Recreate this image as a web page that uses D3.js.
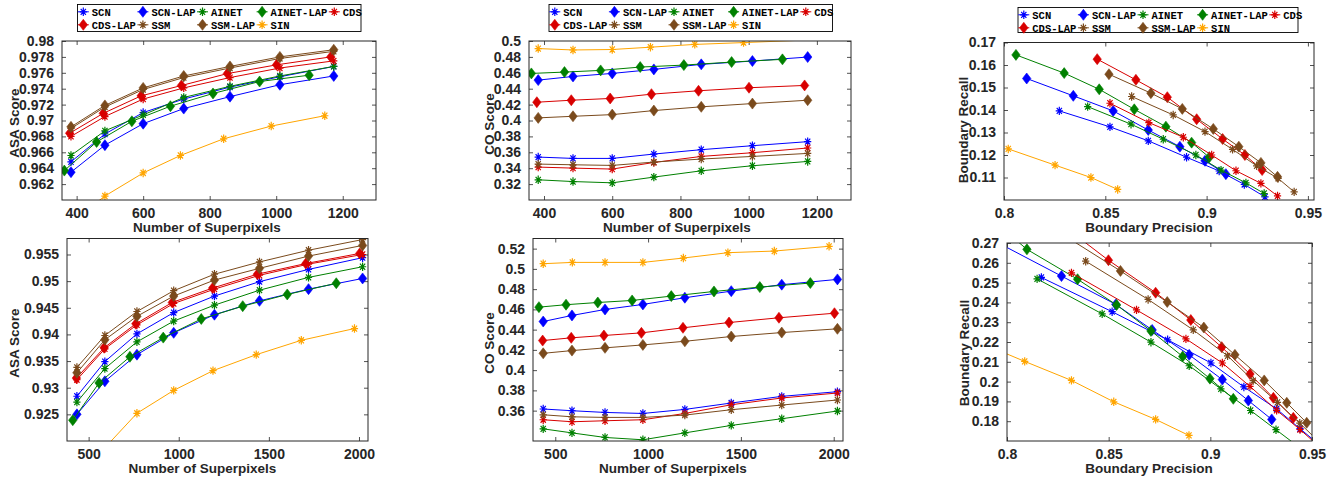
<!DOCTYPE html>
<html>
<head>
<meta charset="utf-8">
<script src="https://cdn.jsdelivr.net/npm/d3@7"></script>
<style>
  body { margin: 0; background: #fff; }
  svg { display: block; }
</style>
</head>
<body>
<svg id="chart" width="1340" height="481"></svg>
<script>
// ---- series definitions ----
var seriesNames = ["SCN", "SCN-LAP", "AINET", "AINET-LAP", "CDS", "CDS-LAP", "SSM", "SSM-LAP", "SIN"];
var seriesColors = ["#0000ff", "#0000ff", "#008000", "#008000", "#d80000", "#d80000", "#7a4a1c", "#7a4a1c", "#ffa500"];
var seriesMarkers = ["star", "diamond", "star", "diamond", "star", "diamond", "star", "diamond", "star"];

// ---- number of superpixels actually produced (top row: 7 settings, bottom row: 8) ----
var topX = [383, 485, 600, 722, 861, 1011, 1173];
var topXcdsLap = [379, 480, 594, 715, 853, 1001, 1164];
var topXainetLap = [363, 460, 566, 682, 810, 950, 1099];
var topXsin = [383, 485, 600, 712, 842, 985, 1146];
var botX = [435, 590, 768, 972, 1198, 1448, 1720, 2020];
var botXcdsLap = [432, 586, 762, 964, 1188, 1436, 1705, 2004];
var botXainetLap = [412, 558, 729, 914, 1125, 1355, 1602, 1874];
var botXsin = [435, 592, 768, 972, 1190, 1430, 1680, 1975];

// ---- ASA, top row ----
var asaTop = [
  [0.9648, 0.9683, 0.9710, 0.9727, 0.9742, 0.9755, 0.9768],
  [0.9635, 0.9669, 0.9696, 0.9715, 0.9730, 0.9745, 0.9756],
  [0.9656, 0.9687, 0.9707, 0.9729, 0.9743, 0.9756, 0.9768],
  [0.9637, 0.9673, 0.9699, 0.9718, 0.9734, 0.9749, 0.9757],
  [0.9680, 0.9705, 0.9727, 0.9741, 0.9754, 0.9766, 0.9775],
  [0.9684, 0.9709, 0.9731, 0.9744, 0.9759, 0.9770, 0.9780],
  [0.9690, 0.9717, 0.9739, 0.9754, 0.9766, 0.9778, 0.9787],
  [0.9692, 0.9719, 0.9741, 0.9756, 0.9768, 0.9780, 0.9789],
  [0.9572, 0.9605, 0.9634, 0.9656, 0.9677, 0.9693, 0.9706]
];

// ---- CO, top row ----
var coTop = [
  [0.3540, 0.3523, 0.3523, 0.3578, 0.3633, 0.3683, 0.3734],
  [0.4508, 0.4554, 0.4592, 0.4643, 0.4706, 0.4748, 0.4798],
  [0.3254, 0.3232, 0.3216, 0.3288, 0.3367, 0.3431, 0.3485],
  [0.4592, 0.4609, 0.4630, 0.4672, 0.4697, 0.4735, 0.4769],
  [0.3414, 0.3401, 0.3389, 0.3472, 0.3548, 0.3595, 0.3654],
  [0.4230, 0.4255, 0.4277, 0.4331, 0.4374, 0.4412, 0.4441],
  [0.3452, 0.3443, 0.3435, 0.3477, 0.3515, 0.3548, 0.3586],
  [0.4033, 0.4053, 0.4074, 0.4125, 0.4172, 0.4213, 0.4255],
  [0.4905, 0.4887, 0.4893, 0.4922, 0.4957, 0.4980, 0.5008]
];

// ---- boundary precision / recall, top row ----
var precTop = [
  [0.8273, 0.8523, 0.8712, 0.8901, 0.9062, 0.9186, 0.9288],
  [0.8112, 0.8342, 0.8539, 0.8712, 0.8868, 0.8992, 0.9095],
  [0.8413, 0.8627, 0.8786, 0.8947, 0.9071, 0.9194, 0.9284],
  [0.8059, 0.8297, 0.8470, 0.8643, 0.8799, 0.8926, 0.9013],
  [0.8523, 0.8715, 0.8885, 0.9025, 0.9145, 0.9268, 0.9350],
  [0.8460, 0.8651, 0.8806, 0.8951, 0.9079, 0.9189, 0.9274],
  [0.8630, 0.8835, 0.8992, 0.9128, 0.9247, 0.9353, 0.9432],
  [0.8518, 0.8725, 0.8880, 0.9033, 0.9159, 0.9268, 0.9350],
  [0.8021, 0.8252, 0.8429, 0.8561]
];
var recTop = [
  [0.1396, 0.1325, 0.1263, 0.1190, 0.1129, 0.1069, 0.1014],
  [0.1540, 0.1463, 0.1396, 0.1311, 0.1237, 0.1174, 0.1115],
  [0.1415, 0.1337, 0.1270, 0.1200, 0.1133, 0.1076, 0.1029],
  [0.1645, 0.1564, 0.1492, 0.1403, 0.1326, 0.1255, 0.1190],
  [0.1430, 0.1344, 0.1279, 0.1200, 0.1130, 0.1074, 0.1018],
  [0.1626, 0.1534, 0.1457, 0.1359, 0.1271, 0.1200, 0.1133],
  [0.1460, 0.1378, 0.1304, 0.1225, 0.1152, 0.1096, 0.1036],
  [0.1559, 0.1475, 0.1405, 0.1316, 0.1237, 0.1165, 0.1103],
  [0.1227, 0.1155, 0.1100, 0.1047]
];

// ---- ASA, bottom row ----
var asaBot = [
  [0.9284, 0.9349, 0.9401, 0.9441, 0.9472, 0.9499, 0.9522, 0.9544],
  [0.9250, 0.9312, 0.9362, 0.9403, 0.9437, 0.9463, 0.9485, 0.9505],
  [0.9273, 0.9336, 0.9386, 0.9425, 0.9455, 0.9483, 0.9507, 0.9527],
  [0.9239, 0.9309, 0.9358, 0.9394, 0.9429, 0.9453, 0.9475, 0.9496],
  [0.9315, 0.9373, 0.9418, 0.9458, 0.9485, 0.9511, 0.9532, 0.9550],
  [0.9318, 0.9375, 0.9420, 0.9460, 0.9487, 0.9513, 0.9533, 0.9552],
  [0.9338, 0.9398, 0.9443, 0.9482, 0.9513, 0.9536, 0.9558, 0.9578],
  [0.9328, 0.9390, 0.9434, 0.9472, 0.9502, 0.9524, 0.9547, 0.9567],
  [0.9110, 0.9188, 0.9252, 0.9295, 0.9332, 0.9362, 0.9389, 0.9411]
];

// ---- CO, bottom row ----
var coBot = [
  [0.3616, 0.3599, 0.3582, 0.3572, 0.3612, 0.3675, 0.3741, 0.3787],
  [0.4480, 0.4540, 0.4599, 0.4649, 0.4715, 0.4780, 0.4844, 0.4896],
  [0.3420, 0.3380, 0.3335, 0.3312, 0.3380, 0.3454, 0.3520, 0.3596],
  [0.4622, 0.4646, 0.4668, 0.4688, 0.4731, 0.4777, 0.4820, 0.4860],
  [0.3510, 0.3490, 0.3500, 0.3510, 0.3572, 0.3658, 0.3725, 0.3774],
  [0.4292, 0.4319, 0.4342, 0.4368, 0.4418, 0.4470, 0.4517, 0.4562],
  [0.3559, 0.3539, 0.3533, 0.3533, 0.3556, 0.3609, 0.3655, 0.3705],
  [0.4166, 0.4193, 0.4220, 0.4249, 0.4285, 0.4332, 0.4371, 0.4408],
  [0.5051, 0.5064, 0.5064, 0.5064, 0.5107, 0.5160, 0.5176, 0.5223]
];

// ---- boundary precision / recall, bottom row ----
var precBot = [
  [0.8169, 0.8517, 0.8790, 0.9003, 0.9165, 0.9326, 0.9441, 0.9560],
  [0.7900, 0.8268, 0.8535, 0.8714, 0.8896, 0.9059, 0.9187, 0.9302],
  [0.8148, 0.8468, 0.8708, 0.8896, 0.9052, 0.9198, 0.9323, 0.9448],
  [0.7900, 0.8098, 0.8347, 0.8539, 0.8708, 0.8864, 0.8998, 0.9113],
  [0.8317, 0.8637, 0.8880, 0.9059, 0.9195, 0.9326, 0.9441, 0.9560],
  [0.8260, 0.8499, 0.8731, 0.8904, 0.9056, 0.9195, 0.9310, 0.9408],
  [0.8387, 0.8694, 0.8916, 0.9085, 0.9211, 0.9330, 0.9440, 0.9530],
  [0.8260, 0.8558, 0.8788, 0.8968, 0.9121, 0.9265, 0.9376, 0.9474],
  [0.7860, 0.8087, 0.8317, 0.8525, 0.8731, 0.8895]
];
var recBot = [
  [0.2526, 0.2353, 0.2211, 0.2094, 0.1973, 0.1862, 0.1762, 0.1661],
  [0.2731, 0.2533, 0.2390, 0.2261, 0.2135, 0.2010, 0.1904, 0.1809],
  [0.2519, 0.2342, 0.2199, 0.2080, 0.1963, 0.1854, 0.1757, 0.1660],
  [0.2840, 0.2668, 0.2517, 0.2387, 0.2256, 0.2127, 0.2015, 0.1913],
  [0.2549, 0.2362, 0.2216, 0.2094, 0.1976, 0.1855, 0.1758, 0.1650],
  [0.2800, 0.2613, 0.2449, 0.2311, 0.2174, 0.2038, 0.1918, 0.1817],
  [0.2608, 0.2415, 0.2261, 0.2130, 0.2005, 0.1895, 0.1790, 0.1700],
  [0.2752, 0.2559, 0.2402, 0.2273, 0.2135, 0.2006, 0.1893, 0.1792],
  [0.2200, 0.2102, 0.2006, 0.1898, 0.1809, 0.1728]
];

// ---- tick labels ----
var topXTicks = [400, 600, 800, 1000, 1200];
var botXTicks = [500, 1000, 1500, 2000];
var precTicks = [0.8, 0.85, 0.9, 0.95];
var asaTopTicks = [0.962, 0.964, 0.966, 0.968, 0.97, 0.972, 0.974, 0.976, 0.978, 0.98];
var coTopTicks = [0.32, 0.34, 0.36, 0.38, 0.4, 0.42, 0.44, 0.46, 0.48, 0.5];
var recTopTicks = [0.11, 0.12, 0.13, 0.14, 0.15, 0.16, 0.17];
var asaBotTicks = [0.925, 0.93, 0.935, 0.94, 0.945, 0.95, 0.955];
var coBotTicks = [0.36, 0.38, 0.4, 0.42, 0.44, 0.46, 0.48, 0.5, 0.52];
var recBotTicks = [0.18, 0.19, 0.2, 0.21, 0.22, 0.23, 0.24, 0.25, 0.26, 0.27];

var topXBySeries = [topX, topX, topX, topXainetLap, topX, topXcdsLap, topX, topX, topXsin];
var botXBySeries = [botX, botX, botX, botXainetLap, botX, botXcdsLap, botX, botX, botXsin];

var panels = [
  { box: [62, 41, 376, 200], xDom: [356, 1300], yDom: [0.96, 0.98], xTicks: topXTicks, yTicks: asaTopTicks,
    xs: topXBySeries, ys: asaTop, xLabel: "Number of Superpixels", yLabel: "ASA Score",
    xl: [207, 231.5], yl: [18.5, 123], legend: [77.5, 4.5, 361, 31.5] },
  { box: [529, 41, 851, 200], xDom: [356, 1300], yDom: [0.30, 0.50], xTicks: topXTicks, yTicks: coTopTicks,
    xs: topXBySeries, ys: coTop, xLabel: "Number of Superpixels", yLabel: "CO Score",
    xl: [677, 231.5], yl: [493.5, 124], legend: [549, 4.5, 832.5, 31.5] },
  { box: [1004, 42.5, 1314, 200], xDom: [0.8, 0.953], yDom: [0.10, 0.17], xTicks: precTicks, yTicks: recTopTicks,
    xs: precTop, ys: recTop, xLabel: "Boundary Precision", yLabel: "Boundary Recall",
    xl: [1149, 231.5], yl: [968, 130], legend: [1018, 7.5, 1298, 32.5] },
  { box: [67, 238.5, 368, 441], xDom: [380, 2050], yDom: [0.92, 0.958], xTicks: botXTicks, yTicks: asaBotTicks,
    xs: botXBySeries, ys: asaBot, xLabel: "Number of Superpixels", yLabel: "ASA Score",
    xl: [202.5, 473], yl: [18.5, 343] },
  { box: [533, 238.5, 843, 441], xDom: [380, 2050], yDom: [0.33, 0.53], xTicks: botXTicks, yTicks: coBotTicks,
    xs: botXBySeries, ys: coBot, xLabel: "Number of Superpixels", yLabel: "CO Score",
    xl: [673, 473], yl: [493.5, 343] },
  { box: [1007, 243, 1312, 441], xDom: [0.8, 0.95], yDom: [0.17, 0.27], xTicks: precTicks, yTicks: recBotTicks,
    xs: precBot, ys: recBot, xLabel: "Boundary Precision", yLabel: "Boundary Recall",
    xl: [1149, 473], yl: [968.5, 353] }
];

var axisColor = "#262626";
var sansFont = "'Liberation Sans', Arial, Helvetica, sans-serif";
var monoFont = "'Liberation Mono', 'Courier New', monospace";

function starPath(rx, ry) {
  var dx = rx * 0.72, dy = ry * 0.72;
  return "M" + (-rx) + ",0L" + rx + ",0" +
    "M0," + (-ry) + "L0," + ry +
    "M" + (-dx) + "," + (-dy) + "L" + dx + "," + dy +
    "M" + (-dx) + "," + dy + "L" + dx + "," + (-dy);
}
var diamondPath = "M0,-5.5L4.2,0L0,5.5L-4.2,0Z";

function drawMarker(g, type, color, x, y) {
  if (type == "star") {
    g.append("path")
      .attr("d", starPath(3.6, 4.2))
      .attr("transform", "translate(" + x + "," + y + ")")
      .attr("fill", "none")
      .attr("stroke", color)
      .attr("stroke-width", 1.2);
  } else {
    g.append("path")
      .attr("d", diamondPath)
      .attr("transform", "translate(" + x + "," + y + ")")
      .attr("fill", color)
      .attr("stroke", color)
      .attr("stroke-width", 0.6);
  }
}

var svg = d3.select("#chart");
var defs = svg.append("defs");

panels.forEach(function (p, k) {
  var x0 = p.box[0], y0 = p.box[1], x1 = p.box[2], y1 = p.box[3];
  var x = d3.scaleLinear().domain(p.xDom).range([x0, x1]);
  var y = d3.scaleLinear().domain(p.yDom).range([y1, y0]);
  var g = svg.append("g").attr("class", "panel");

  defs.append("clipPath").attr("id", "clip" + k)
    .append("rect").attr("x", x0).attr("y", y0).attr("width", x1 - x0).attr("height", y1 - y0);

  // axes with inward ticks (bottom/left labelled, top/right mirrored)
  var tl = 4;
  var axB = d3.axisBottom(x).tickValues(p.xTicks).tickSize(-tl).tickPadding(tl + 4).tickFormat(String);
  var axT = d3.axisTop(x).tickValues(p.xTicks).tickSize(-tl).tickFormat("");
  var axL = d3.axisLeft(y).tickValues(p.yTicks).tickSize(-tl).tickPadding(tl + 4).tickFormat(String);
  var axR = d3.axisRight(y).tickValues(p.yTicks).tickSize(-tl).tickFormat("");

  var gb = g.append("g").attr("transform", "translate(0," + y1 + ")").call(axB);
  var gt = g.append("g").attr("transform", "translate(0," + y0 + ")").call(axT);
  var gl = g.append("g").attr("transform", "translate(" + x0 + ",0)").call(axL);
  var gr = g.append("g").attr("transform", "translate(" + x1 + ",0)").call(axR);
  [gb, gt, gl, gr].forEach(function (a) {
    a.select(".domain").remove();
    a.selectAll(".tick line").attr("stroke", axisColor).attr("stroke-width", 0.8);
    a.selectAll(".tick text")
      .attr("fill", axisColor)
      .style("font-family", sansFont)
      .style("font-weight", "bold")
      .style("font-size", "14px");
  });

  // series
  var plot = g.append("g").attr("clip-path", "url(#clip" + k + ")");
  for (var i = 0; i < seriesNames.length; i++) {
    var px = p.xs[i], py = p.ys[i];
    var pts = px.map(function (v, j) { return [v, py[j]]; });
    var line = d3.line().x(function (d) { return x(d[0]); }).y(function (d) { return y(d[1]); });
    plot.append("path")
      .attr("d", line(pts))
      .attr("fill", "none")
      .attr("stroke", seriesColors[i])
      .attr("stroke-width", 1);
    pts.forEach(function (d) {
      if (d[0] < p.xDom[0] || d[0] > p.xDom[1] || d[1] < p.yDom[0] || d[1] > p.yDom[1]) return;
      drawMarker(plot, seriesMarkers[i], seriesColors[i], x(d[0]), y(d[1]));
    });
  }

  // box
  g.append("rect")
    .attr("x", x0).attr("y", y0).attr("width", x1 - x0).attr("height", y1 - y0)
    .attr("fill", "none").attr("stroke", axisColor).attr("stroke-width", 1);

  // axis labels
  g.append("text")
    .attr("x", p.xl[0]).attr("y", p.xl[1])
    .attr("text-anchor", "middle")
    .attr("fill", axisColor)
    .style("font-family", sansFont).style("font-weight", "bold").style("font-size", "13.5px")
    .text(p.xLabel);
  g.append("text")
    .attr("transform", "translate(" + p.yl[0] + "," + p.yl[1] + ") rotate(-90)")
    .attr("text-anchor", "middle")
    .attr("fill", axisColor)
    .style("font-family", sansFont).style("font-weight", "bold").style("font-size", "13.5px")
    .text(p.yLabel);

  // legend (top row only)
  if (p.legend) {
    var L = p.legend;
    var lg = g.append("g");
    lg.append("rect")
      .attr("x", L[0]).attr("y", L[1]).attr("width", L[2] - L[0]).attr("height", L[3] - L[1])
      .attr("fill", "#fff").attr("stroke", "#000").attr("stroke-width", 0.9);
    var charW = 6.3;
    var colOff = [0];
    for (var c = 0; c < 4; c++) {
      var n1 = seriesNames[c].length;
      var n2 = seriesNames[c + 5] ? seriesNames[c + 5].length : 0;
      colOff.push(colOff[c] + Math.max(n1, n2) * charW + 15.5);
    }
    seriesNames.forEach(function (name, i) {
      var row = i < 5 ? 0 : 1;
      var col = i < 5 ? i : i - 5;
      var mx = L[0] + 5.8 + colOff[col];
      var my = L[1] + 7.3 + row * 13;
      lg.append("line")
        .attr("x1", mx - 5.5).attr("x2", mx + 5.5).attr("y1", my).attr("y2", my)
        .attr("stroke", seriesColors[i]).attr("stroke-width", 1);
      drawMarker(lg, seriesMarkers[i], seriesColors[i], mx, my);
      lg.append("text")
        .attr("x", mx + 8.5).attr("y", my).attr("dy", "0.36em")
        .attr("fill", "#000")
        .style("font-family", monoFont).style("font-weight", "bold").style("font-size", "10.5px")
        .text(name);
    });
  }
});
</script>
</body>
</html>
